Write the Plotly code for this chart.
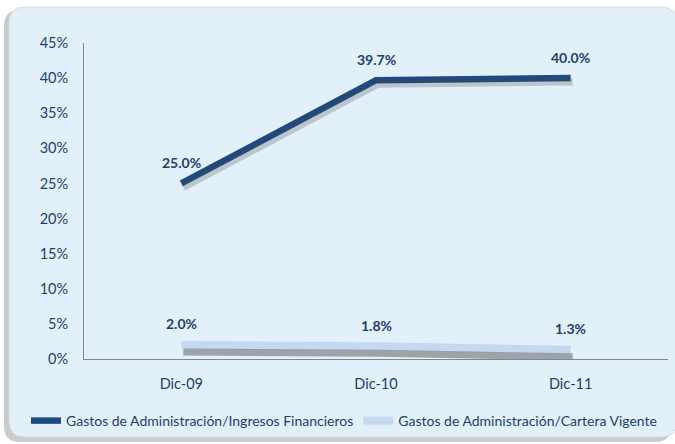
import plotly.graph_objects as go

categories = ["Dic-09", "Dic-10", "Dic-11"]
ingresos = [25.0, 39.7, 40.0]
cartera = [2.0, 1.8, 1.3]
tick_vals = [0, 5, 10, 15, 20, 25, 30, 35, 40, 45]
tick_text = ["0%", "5%", "10%", "15%", "20%", "25%", "30%", "35%", "40%", "45%"]
name1 = "Gastos de Administración/Ingresos Financieros"
name2 = "Gastos de Administración/Cartera Vigente"

FONT = "Lato, Carlito, sans-serif"
TXT = "#1F3F6F"
W, H = 675, 444
L, R, T, B = 84, 7, 43, 85
PW, PH = W - L - R, H - T - B
YMAX = 45.0
XR = [-0.5, 2.5]


def px(x, y):
    return (x - L) / PW, (H - B - y) / PH


def rounded(x0, y0, x1, y1, r):
    pts = []
    a = px(x0 + r, y0); pts.append(f"M {a[0]:.4f},{a[1]:.4f}")
    a = px(x1 - r, y0); pts.append(f"L {a[0]:.4f},{a[1]:.4f}")
    c = px(x1, y0); e = px(x1, y0 + r); pts.append(f"Q {c[0]:.4f},{c[1]:.4f} {e[0]:.4f},{e[1]:.4f}")
    a = px(x1, y1 - r); pts.append(f"L {a[0]:.4f},{a[1]:.4f}")
    c = px(x1, y1); e = px(x1 - r, y1); pts.append(f"Q {c[0]:.4f},{c[1]:.4f} {e[0]:.4f},{e[1]:.4f}")
    a = px(x0 + r, y1); pts.append(f"L {a[0]:.4f},{a[1]:.4f}")
    c = px(x0, y1); e = px(x0, y1 - r); pts.append(f"Q {c[0]:.4f},{c[1]:.4f} {e[0]:.4f},{e[1]:.4f}")
    a = px(x0, y0 + r); pts.append(f"L {a[0]:.4f},{a[1]:.4f}")
    c = px(x0, y0); e = px(x0 + r, y0); pts.append(f"Q {c[0]:.4f},{c[1]:.4f} {e[0]:.4f},{e[1]:.4f}")
    return " ".join(pts) + " Z"


fig = go.Figure()

# shadows (same data drawn on slightly shifted overlay axes)
sh1_dx, sh1_dy = 2 / (PW / 3), 4 / (PH / YMAX)
sh2_dy = 7 / (PH / YMAX)
fig.add_trace(go.Scatter(x=categories, y=ingresos, mode="lines", showlegend=False, hoverinfo="skip",
                         line=dict(color="rgba(70,70,70,0.25)", width=7),
                         xaxis="x2", yaxis="y2"))
fig.add_trace(go.Scatter(x=categories, y=cartera, mode="lines", showlegend=False, hoverinfo="skip",
                         line=dict(color="rgba(70,70,70,0.45)", width=7),
                         xaxis="x2", yaxis="y3"))

fig.add_trace(go.Scatter(
    x=categories, y=ingresos, name=name1, mode="lines",
    line=dict(color="#1F4A7F", width=6.5),
))
fig.add_trace(go.Scatter(
    x=categories, y=cartera, name=name2, mode="lines",
    line=dict(color="#C5D8EF", width=8),
))

annotations = []
for series in (ingresos, cartera):
    for c, v in zip(categories, series):
        annotations.append(dict(x=c, y=v, xref="x", yref="y", text=f"<b>{v:.1f}%</b>",
                                showarrow=False, yshift=21, yanchor="middle",
                                font=dict(family=FONT, size=14, color=TXT)))

fig.update_layout(
    width=W, height=H,
    margin=dict(l=L, r=R, t=T, b=B, autoexpand=False),
    paper_bgcolor="#FFFFFF",
    plot_bgcolor="rgba(0,0,0,0)",
    font=dict(family=FONT, size=14, color=TXT),
    showlegend=True,
    legend=dict(orientation="h", x=(26 - L) / PW, xanchor="left",
                y=(H - B - 421) / PH, yanchor="middle",
                font=dict(family=FONT, size=14, color=TXT), itemwidth=30,
                bgcolor="rgba(0,0,0,0)", tracegroupgap=0),
    xaxis=dict(range=XR, showgrid=False, showline=True, linecolor="#868686", linewidth=1,
               ticks="", ticklabelstandoff=12, automargin=False,
               tickfont=dict(family=FONT, size=14.5, color=TXT)),
    yaxis=dict(range=[0, YMAX], tickvals=tick_vals, ticktext=tick_text, showgrid=False,
               showline=True, linecolor="#868686", linewidth=1, ticks="", automargin=False,
               ticklabelstandoff=12, tickfont=dict(family=FONT, size=14.5, color=TXT), zeroline=False),
    xaxis2=dict(overlaying="x", range=[XR[0] - sh1_dx, XR[1] - sh1_dx], visible=False),
    yaxis2=dict(overlaying="y", range=[sh1_dy, YMAX + sh1_dy], visible=False),
    yaxis3=dict(overlaying="y", range=[sh2_dy, YMAX + sh2_dy], visible=False),
    annotations=annotations,
    shapes=[
        dict(type="path", xref="paper", yref="paper", layer="below",
             path=rounded(4, 10, 671, 442, 16), fillcolor="rgba(140,140,140,0.45)",
             line=dict(width=0)),
        dict(type="path", xref="paper", yref="paper", layer="below",
             path=rounded(9, 7, 677, 437, 16), fillcolor="#E2F0F9",
             line=dict(color="#D4DEE6", width=1)),
    ],
)
fig.write_html("out.html", config={"displayModeBar": False},
               post_script="document.body.style.margin='0';document.body.style.padding='0';")
